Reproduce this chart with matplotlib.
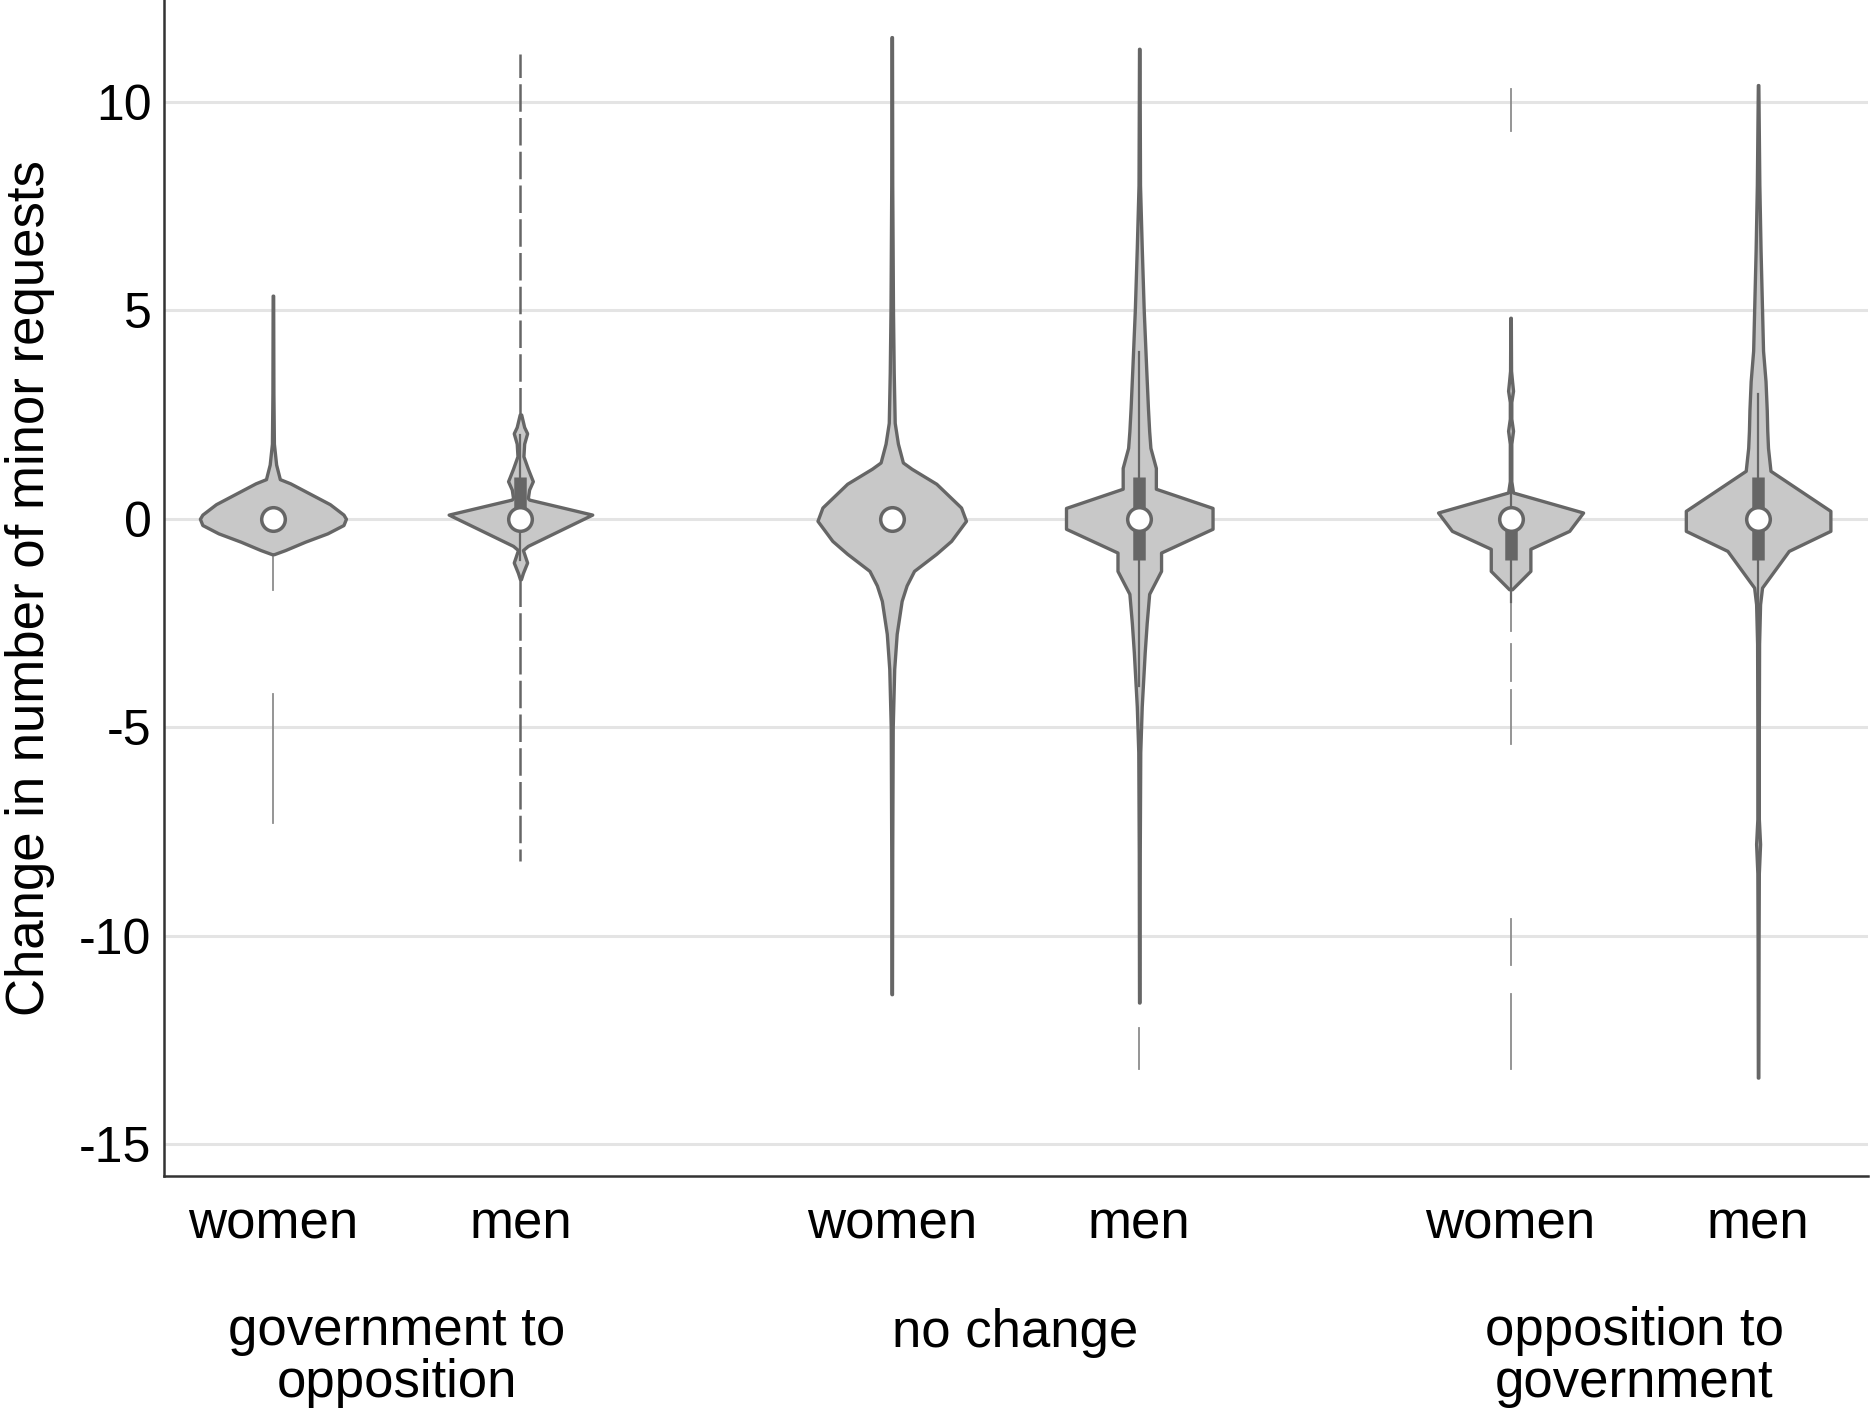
import matplotlib
matplotlib.use("Agg")
import matplotlib.pyplot as plt
from matplotlib.transforms import blended_transform_factory

plt.rcParams['font.family'] = ['Liberation Sans', 'DejaVu Sans']
plt.rcParams['axes.unicode_minus'] = False

groups = ["government to\nopposition", "no change", "opposition to\ngovernment"]
sexes = ["women", "men"]

# violin outlines: y level and half width (x units)
gov_women_y = [5.35, 3.0, 1.8, 1.3, 0.95, 0.85, 0.6, 0.35, 0.1, 0.0, -0.15, -0.35, -0.55, -0.75, -0.85]
gov_women_w = [0.001, 0.002, 0.004, 0.013, 0.028, 0.07, 0.15, 0.23, 0.285, 0.295, 0.285, 0.22, 0.13, 0.05, 0.004]
gov_women_tails = [(-0.85, -1.7), (-4.2, -7.3)]

gov_men_y = [2.5, 2.2, 2.05, 1.8, 1.5, 1.2, 0.9, 0.7, 0.5, 0.46, 0.1, -0.65, -0.75, -1.05, -1.3, -1.45]
gov_men_w = [0.003, 0.015, 0.027, 0.015, 0.012, 0.03, 0.05, 0.035, 0.03, 0.035, 0.29, 0.03, 0.01, 0.027, 0.01, 0.002]
gov_men_tails = [(2.5, 11.15), (-1.45, -8.2)]

none_women_y = [11.55, 8, 5, 3.5, 2.3, 1.8, 1.35, 1.2, 0.84, 0.27, -0.05, -0.53, -0.84, -1.25, -1.6, -1.97, -2.76, -3.6, -5, -8, -11.4]
none_women_w = [0.001, 0.002, 0.005, 0.008, 0.012, 0.025, 0.045, 0.08, 0.18, 0.28, 0.30, 0.24, 0.18, 0.09, 0.06, 0.04, 0.02, 0.01, 0.004, 0.002, 0.001]
none_women_tails = []

none_men_y = [11.27, 8, 6.5, 5, 3.6, 2.66, 2.1, 1.7, 1.22, 0.72, 0.26, -0.24, -0.81, -1.25, -1.8, -2.5, -3.2, -4.5, -5.6, -8, -11.6]
none_men_w = [0.001, 0.003, 0.01, 0.018, 0.028, 0.035, 0.04, 0.045, 0.067, 0.067, 0.296, 0.296, 0.088, 0.088, 0.04, 0.03, 0.022, 0.01, 0.004, 0.002, 0.001]
none_men_tails = [(-12.2, -13.2)]

opp_women_y = [4.82, 3.55, 3.3, 3.07, 2.8, 2.4, 2.11, 1.8, 0.9, 0.63, 0.15, -0.29, -0.72, -1.25, -1.69]
opp_women_w = [0.001, 0.002, 0.006, 0.01, 0.003, 0.003, 0.01, 0.003, 0.003, 0.01, 0.293, 0.237, 0.08, 0.08, 0.006]
opp_women_tails = [(9.3, 10.3), (-1.69, -2.7), (-3.0, -3.9), (-4.1, -5.4), (-9.6, -10.7), (-11.4, -13.2)]

opp_men_y = [10.4, 8, 6.43, 4.03, 3.3, 2.6, 2.11, 1.7, 1.15, 0.19, -0.29, -0.77, -1.65, -2.05, -3, -5, -7.2, -7.8, -8.5, -10, -13.4]
opp_men_w = [0.001, 0.005, 0.01, 0.02, 0.03, 0.035, 0.037, 0.04, 0.05, 0.292, 0.292, 0.124, 0.016, 0.008, 0.004, 0.003, 0.003, 0.008, 0.003, 0.002, 0.001]
opp_men_tails = []

# inner box: median, quartiles, whisker ends (None = not shown)
medians = [0, 0, 0, 0, 0, 0]
quartiles = [None, (0, 1), None, (-1, 1), (-1, 0), (-1, 1)]
whiskers = [None, (-1, 2), None, (-4, 4), (-2, 1), (-3, 3)]

violins = [
    (gov_women_y, gov_women_w, gov_women_tails),
    (gov_men_y, gov_men_w, gov_men_tails),
    (none_women_y, none_women_w, none_women_tails),
    (none_men_y, none_men_w, none_men_tails),
    (opp_women_y, opp_women_w, opp_women_tails),
    (opp_men_y, opp_men_w, opp_men_tails),
]

fill = "#c8c8c8"
edge = "#666666"

fig = plt.figure(figsize=(18.75, 14.19), dpi=100)
ax = fig.add_axes([164 / 1875, 1 - 1176 / 1419, 1704 / 1875, 1176 / 1419])

positions = []
for g in range(len(groups)):
    for s in range(len(sexes)):
        positions.append(g * 2.5 + s)

for i, (ys, ws, tails) in enumerate(violins):
    p = positions[i]
    dashed = i == 1
    for y0, y1 in tails:
        if dashed:
            ax.plot([p, p], [y0, y1], color=edge, lw=1.8, ls=(0, (11, 2.5)), zorder=2)
        else:
            ax.plot([p, p], [y0, y1], color="#8c8c8c", lw=1.3, zorder=2)
    left = [p - w for w in ws]
    right = [p + w for w in ws]
    ax.fill_betweenx(ys, left, right, facecolor=fill, edgecolor=edge, lw=2.4, zorder=3)
    if whiskers[i] is not None:
        ax.plot([p, p], whiskers[i], color=edge, lw=1.6, zorder=4)
    if quartiles[i] is not None:
        ax.plot([p, p], quartiles[i], color=edge, lw=9, solid_capstyle="butt", zorder=4)
    ax.plot([p], [medians[i]], marker="o", ms=17, mfc="white", mec=edge, mew=2.5, zorder=5)

ax.set_xlim(-0.44, 6.444)
ax.set_ylim(-15.76, 12.44)
ax.set_yticks([-15, -10, -5, 0, 5, 10])
ax.set_xticks(positions, sexes * len(groups))
ax.tick_params(axis="both", length=0, colors="black")
ax.tick_params(axis="y", pad=9, labelsize=36)
ax.tick_params(axis="x", pad=17, labelsize=38)
ax.grid(axis="y", color="#e4e4e4", lw=2.2)
ax.set_axisbelow(True)
for side in ["top", "right"]:
    ax.spines[side].set_visible(False)
for side in ["left", "bottom"]:
    ax.spines[side].set_color("#333333")
    ax.spines[side].set_linewidth(1.8)

# group names under the tick labels; multi-line text sits on its last baseline
trans = blended_transform_factory(ax.transData, fig.transFigure)
for g, name in enumerate(groups):
    base = 1397 if "\n" in name else 1347
    ax.text(g * 2.5 + 0.5, 1 - base / 1419, name, transform=trans, ha="center",
            va="baseline", fontsize=38, linespacing=1.05, multialignment="center")

fig.text(30 / 1875, 1 - 588 / 1419, "Change in number of minor requests", rotation=90,
         ha="center", va="center", fontsize=38)

fig.savefig("out.png", dpi=100)
